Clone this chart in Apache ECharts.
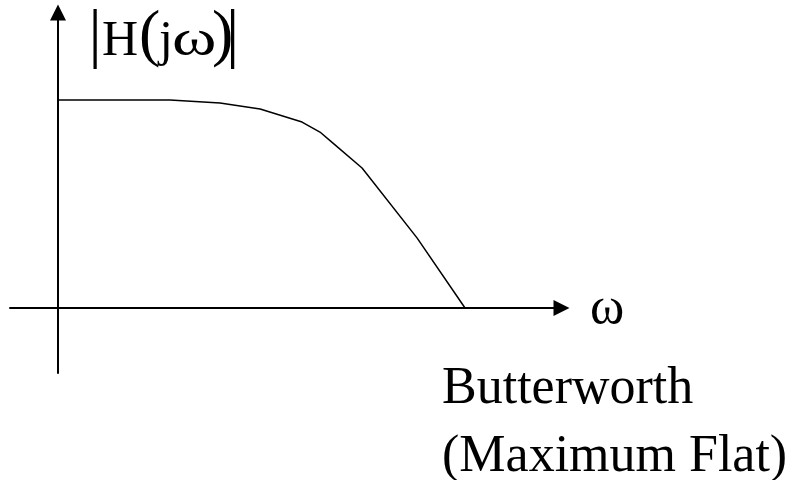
<!DOCTYPE html>
<html>
<head>
<meta charset="utf-8">
<script src="https://cdn.jsdelivr.net/npm/echarts@6/dist/echarts.min.js"></script>
<style>
    html, body { margin: 0; padding: 0; background: #fff; }
    #chart { width: 799px; height: 480px; }
</style>
</head>
<body>
<div id="chart"></div>
<script>
// normalised frequency (omega / omega_c) and magnitude |H(jw)|
const omega = [0, 0.55, 0.796, 0.993, 1.199, 1.287, 1.351, 1.494, 1.764, 2.0];
const magnitude = [1, 1, 0.986, 0.957, 0.894, 0.846, 0.793, 0.673, 0.337, 0];

const xLabel = 'ω';
const captionLines = ['Butterworth', '(Maximum Flat)'];

const chart = echarts.init(document.getElementById('chart'));
const serif = '"Liberation Serif", "Times New Roman", serif';

const axisCommon = {
    type: 'value',
    axisLine: {
        onZero: true,
        symbol: ['none', 'triangle'],
        symbolSize: [16, 16],
        lineStyle: { color: '#000', width: 2 }
    },
    axisTick: { show: false },
    axisLabel: { show: false },
    splitLine: { show: false }
};

// one piece of the |H(jw)| label
function piece(text, x, y, size, sx) {
    return {
        type: 'text',
        x: x,
        y: y,
        scaleX: sx || 1,
        style: {
            text: text,
            font: size + 'px ' + serif,
            fill: '#000',
            verticalAlign: 'middle'
        }
    };
}

const option = {
    animation: false,
    backgroundColor: '#fff',
    grid: {
        left: 10,
        right: 237.5,
        top: 12.5,
        bottom: 107
    },
    xAxis: Object.assign({}, axisCommon, { min: -0.236, max: 2.474 }),
    yAxis: Object.assign({}, axisCommon, { min: -0.3125, max: 1.4207 }),
    series: [
        {
            type: 'line',
            data: omega.map((w, i) => [w, magnitude[i]]),
            showSymbol: false,
            smooth: false,
            lineStyle: { color: '#000', width: 1.5 }
        }
    ],
    graphic: [
        piece('|', 88.5, 38, 66),
        piece('H', 102, 42, 50),
        piece('(', 139, 37, 64),
        piece('j', 159, 42, 50),
        piece('ω', 172, 42, 50, 1.35),
        piece(')', 212, 37, 64),
        piece('|', 226, 38, 66),
        piece(xLabel, 590, 309, 52),
        piece(captionLines[0], 442, 389, 52),
        piece(captionLines[1], 442, 457, 52)
    ]
};

chart.setOption(option);
</script>
</body>
</html>
